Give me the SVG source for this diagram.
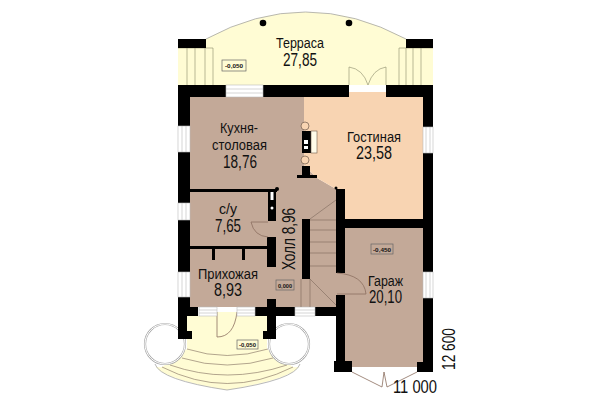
<svg xmlns="http://www.w3.org/2000/svg" width="600" height="400" viewBox="0 0 600 400">
<style>
.t{font-family:"Liberation Sans",Arial,sans-serif;fill:#111;text-anchor:start}
.n{font-size:15.5px}.a{font-size:18px}
.lv{font-family:"Liberation Sans",Arial,sans-serif;font-size:6px;fill:#111;font-weight:bold}
.lb{fill:none;stroke:#666;stroke-width:.7}
.w{fill:#000}
.win{fill:#fff;stroke:#bbb;stroke-width:.6}
.thin{fill:none;stroke:#7d6a5c;stroke-width:.6}
.wl{fill:none;stroke:#bbb;stroke-width:.6}
.rail{fill:none;stroke:#8a8a6a;stroke-width:.6}
.y{fill:#fffcd4}
.k{fill:#c3a998}
.l{fill:#f8d4b2}
.dr{fill:none;stroke:#8b6f60;stroke-width:.8}
</style>
<rect width="600" height="400" fill="#fff"/>
<g id="terrace">
<path class="y" d="M206 39Q305 -15 406 39L406 48L433 48L433 85L178 85L178 48L206 48Z"/>
<path d="M206 39Q305 -15 406 39" fill="none" stroke="#999" stroke-width=".7"/>
<path class="rail" d="M178 48H213V85M187 48V85M195 48V85M205 48V85M433 48H399V85M406 48V85M413 48V85M421 48V85"/>
<rect class="w" x="178" y="39" width="28" height="9"/>
<rect class="w" x="406" y="39" width="27" height="9"/>
<circle class="w" cx="263" cy="23" r="3.3"/><circle class="w" cx="349" cy="23" r="3.3"/>
<rect class="lb" x="222" y="60" width="24" height="11"/>
<text class="lv" x="225" y="68" textLength="18" lengthAdjust="spacingAndGlyphs">-0,050</text>
<text class="t n" x="276" y="48" textLength="48" lengthAdjust="spacingAndGlyphs">Терраса</text>
<text class="t a" x="283" y="66" textLength="34" lengthAdjust="spacingAndGlyphs">27,85</text>
</g>
<g id="porch">
<path class="y" d="M187 316H267V349L293 367Q300 368 300 364Q297 378 227 390Q157 378 155 364Q155 368 162 367L187 349Z"/>
<path class="thin" d="M187 349Q227 362 268 349M182 358Q227 372 273 358M170 365Q227 385 287 365M162 367Q227 400 293 367"/>
<path d="M155 364Q160 380 227 390Q295 380 300 364" fill="none" stroke="#999" stroke-width=".7"/>
<circle cx="165" cy="344" r="20" fill="#fff" stroke="#aaa" stroke-width="2.200"/>
<circle cx="165" cy="344" r="20" fill="none" stroke="#fff" stroke-width="1"/>
<circle cx="289" cy="344" r="20" fill="#fff" stroke="#aaa" stroke-width="2.200"/>
<circle cx="289" cy="344" r="20" fill="none" stroke="#fff" stroke-width="1"/>
<path d="M217 312V337Q234 337 237 312" fill="#fffcd4" stroke="#8b6f60" stroke-width=".8"/>
<rect class="lb" x="237" y="340" width="21" height="9"/>
<text class="lv" x="239" y="347" textLength="17" lengthAdjust="spacingAndGlyphs">-0,050</text>
</g>
<g id="rooms">
<path class="k" d="M190 97H304V165L317 178L336 189L345 189V307H190Z"/>
<path class="l" d="M304 97H349V92H386V97H423V219H345V189H336L317 178L304 165Z"/>
<rect class="k" x="340" y="228" width="83" height="139"/>
</g>
<g id="walls">
<path class="w" d="M178 85H349V97H190V307H198V316H187V331H192V339H178V299H178ZM386 85H433V372H417V362H423V97H386Z"/>
<path class="w" d="M255 307H267V299H276V307H345V316H276V331V339H263V331H267V316H255Z"/>
<path class="w" d="M345 219H423V228H345ZM336 189H345V273H336ZM336 295H345V361H352V372H334V361H336ZM302 219H310V279H302ZM267 237H276V267H267Z"/>
<path class="w" d="M190 189H277V192H276V221H268V192H190ZM190 246H267V249H190ZM212 249H215V260H212ZM242 249H245V260H242Z"/>
<path class="w" d="M302 166H310V175H317V178H297V175H302ZM302 131H311V153H302Z"/>
<circle class="w" cx="277" cy="189" r="2"/><circle class="w" cx="336" cy="188" r="1.500"/>
<rect x="304" y="140" width="4" height="4" fill="#fff"/><rect x="304" y="146" width="4" height="3" fill="#fff"/>
<rect x="270.500" y="192" width="3" height="8" fill="#fff"/><circle cx="272" cy="208" r="1.500" fill="#fff"/>
</g>
<g id="windows">
<rect class="win" x="226" y="85" width="37" height="12"/>
<path class="wl" d="M226 89H263M226 93H263"/>
<rect class="win" x="178" y="126" width="12" height="26"/><path class="wl" d="M182 126V152M186 126V152"/>
<rect class="win" x="178" y="203" width="12" height="17"/><path class="wl" d="M182 203V220M186 203V220"/>
<rect class="win" x="178" y="272" width="12" height="25"/><path class="wl" d="M182 272V297M186 272V297"/>
<rect class="win" x="423" y="127" width="10" height="26"/><path class="wl" d="M426 127V153M430 127V153"/>
<rect class="win" x="423" y="272" width="10" height="26"/><path class="wl" d="M426 272V298M430 272V298"/>
<rect class="win" x="199" y="307" width="18" height="9"/><path class="wl" d="M199 310H217M199 313H217"/>
<rect class="win" x="237" y="307" width="18" height="9"/><path class="wl" d="M237 310H255M237 313H255"/>
<rect class="win" x="295" y="307" width="20" height="9"/><path class="wl" d="M295 310H315M295 313H315"/>
</g>
<g id="connectors">
<path class="rail" d="M349 85V67Q363 69 368 85Q373 69 386 67V85"/>
<path class="dr" d="M251 222H268M251 222Q254 236 268 237"/>
<path class="dr" d="M337 294H366M337 273Q364 275 366 294"/>
<path class="dr" d="M352 372L382 387L384 372L387 387L417 372"/>
<path class="thin" d="M310 219L336 200M310 220H336M310 230H336M310 242H336M310 253H336M310 266H336M310 279L336 305M301 279V307M310 279V307"/>
<circle cx="305" cy="126" r="4" fill="#f8d4b2" stroke="#6e5a4c" stroke-width=".7"/>
<circle cx="305" cy="160" r="4" fill="#f8d4b2" stroke="#6e5a4c" stroke-width=".7"/>
<rect x="311" y="131" width="6" height="22" fill="#fffbe8" stroke="#6e5a4c" stroke-width=".6"/>
</g>
<g id="kitchen"><text class="t n" x="220" y="133" textLength="38" lengthAdjust="spacingAndGlyphs">Кухня-</text>
<text class="t n" x="212" y="150" textLength="55" lengthAdjust="spacingAndGlyphs">столовая</text>
<text class="t a" x="223" y="168" textLength="34" lengthAdjust="spacingAndGlyphs">18,76</text></g>
<g id="living"><text class="t n" x="347" y="142" textLength="54" lengthAdjust="spacingAndGlyphs">Гостиная</text>
<text class="t a" x="356" y="159" textLength="36" lengthAdjust="spacingAndGlyphs">23,58</text></g>
<g id="bath"><text class="t n" x="219" y="214" textLength="18" lengthAdjust="spacingAndGlyphs">с/у</text>
<text class="t a" x="215" y="232" textLength="26" lengthAdjust="spacingAndGlyphs">7,65</text></g>
<g id="hall"><text class="t a" transform="translate(295 270) rotate(-90)" textLength="62" lengthAdjust="spacingAndGlyphs">Холл 8,96</text>
<rect class="lb" x="276" y="280" width="18" height="10"/><text class="lv" x="278" y="287.500" textLength="14" lengthAdjust="spacingAndGlyphs">0,000</text></g>
<g id="entry"><text class="t n" x="198" y="279" textLength="60" lengthAdjust="spacingAndGlyphs">Прихожая</text>
<text class="t a" x="214" y="296" textLength="28" lengthAdjust="spacingAndGlyphs">8,93</text></g>
<g id="garage"><rect class="lb" x="371" y="244" width="22" height="10"/><text class="lv" x="373" y="251.500" textLength="18" lengthAdjust="spacingAndGlyphs">-0,450</text>
<text class="t n" x="368" y="286" textLength="35" lengthAdjust="spacingAndGlyphs">Гараж</text>
<text class="t a" x="369" y="303" textLength="33" lengthAdjust="spacingAndGlyphs">20,10</text></g>
<g id="dimensions"><text class="t a" x="393" y="393" textLength="44" lengthAdjust="spacingAndGlyphs">11 000</text>
<text class="t a" transform="translate(455 370) rotate(-90)" textLength="42" lengthAdjust="spacingAndGlyphs">12 600</text></g>
</svg>
